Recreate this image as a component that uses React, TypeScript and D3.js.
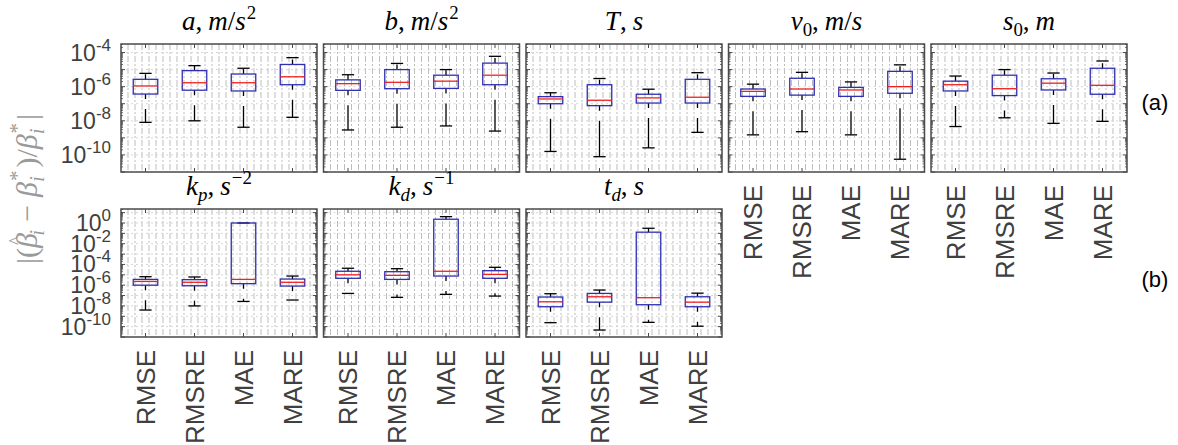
import React from 'react';
import * as d3 from 'd3';

// Categories (estimation criteria)
const methods = ['RMSE', 'RMSRE', 'MAE', 'MARE'];

// Each row: [lower whisker, q1, median, q3, upper whisker] per method
const statsA = [[8.1e-9, 3.7e-7, 1.1e-6, 2.7e-6, 6.0e-6], [1.0e-8, 6.2e-7, 1.7e-6, 8.7e-6, 1.7e-5], [4.2e-9, 5.6e-7, 1.7e-6, 5.5e-6, 1.2e-5], [1.6e-8, 1.3e-6, 3.8e-6, 2.0e-5, 5.0e-5]];
const statsB = [[2.9e-9, 6.1e-7, 1.5e-6, 2.5e-6, 5.0e-6], [4.2e-9, 7.6e-7, 1.8e-6, 1.0e-5, 2.3e-5], [5.0e-9, 7.9e-7, 2.1e-6, 4.7e-6, 1.0e-5], [2.5e-9, 1.3e-6, 4.7e-6, 2.4e-5, 6.0e-5]];
const statsT = [[1.6e-10, 1.0e-7, 1.9e-7, 2.6e-7, 4.4e-7], [7.9e-11, 7.7e-8, 1.6e-7, 1.3e-6, 3.0e-6], [2.6e-10, 1.1e-7, 2.2e-7, 3.6e-7, 7.1e-7], [2.1e-9, 1.1e-7, 2.4e-7, 2.7e-6, 6.6e-6]];
const statsV0 = [[1.5e-9, 2.7e-7, 5.3e-7, 7.3e-7, 1.4e-6], [2.3e-9, 3.2e-7, 7.3e-7, 3.1e-6, 6.9e-6], [1.5e-9, 2.7e-7, 6.4e-7, 9.1e-7, 1.9e-6], [5.6e-11, 4.1e-7, 1.0e-6, 7.9e-6, 1.9e-5]];
const statsS0 = [[4.6e-9, 5.6e-7, 1.3e-6, 2.1e-6, 4.2e-6], [1.5e-8, 3.0e-7, 7.6e-7, 4.7e-6, 1.0e-5], [7.1e-9, 6.4e-7, 1.6e-6, 2.9e-6, 6.3e-6], [9.3e-9, 3.6e-7, 1.2e-6, 1.2e-5, 3.2e-5]];
const statsKp = [[4.0e-9, 1.0e-6, 2.3e-6, 3.6e-6, 6.6e-6], [1.0e-8, 8.8e-7, 1.9e-6, 3.4e-6, 6.2e-6], [2.7e-8, 1.4e-6, 3.6e-6, 1.0, 1.0], [3.7e-8, 8.2e-7, 1.9e-6, 3.9e-6, 7.6e-6]];
const statsKd = [[1.6e-7, 4.6e-6, 1.0e-5, 2.2e-5, 4.3e-5], [6.7e-8, 3.6e-6, 8.9e-6, 2.0e-5, 3.9e-5], [1.3e-7, 7.6e-6, 2.2e-5, 2.3, 4.1], [8.9e-8, 4.6e-6, 1.1e-5, 2.5e-5, 5.3e-5]];
const statsTd = [[2.4e-10, 8.3e-9, 2.5e-8, 7.2e-8, 1.5e-7], [4.7e-11, 2.3e-8, 7.6e-8, 1.6e-7, 3.4e-7], [2.6e-10, 1.3e-8, 6.2e-8, 0.13, 0.31], [1.1e-10, 8.3e-9, 2.3e-8, 7.6e-8, 1.7e-7]];

// Axis ranges and tick labels
const topDomain = [1e-11, Math.pow(10, -3.5)];
const bottomDomain = [1e-11, Math.pow(10, 1.35)];
const topTickExps = [-4, -6, -8, -10];
const bottomTickExps = [0, -2, -4, -6, -8, -10];

type Seg = { t: string; i?: boolean; sup?: boolean; sub?: boolean; hat?: boolean; dx?: number };

const titleA: Seg[] = [{ t: 'a', i: true }, { t: ',' }, { t: 'm', i: true, dx: 6 }, { t: '/' }, { t: 's', i: true }, { t: '2', sup: true, dx: 1 }];
const titleB: Seg[] = [{ t: 'b', i: true }, { t: ',' }, { t: 'm', i: true, dx: 6 }, { t: '/' }, { t: 's', i: true }, { t: '2', sup: true, dx: 1 }];
const titleT: Seg[] = [{ t: 'T', i: true }, { t: ',' }, { t: 's', i: true, dx: 6 }];
const titleV0: Seg[] = [{ t: 'v', i: true }, { t: '0', sub: true }, { t: ',' }, { t: 'm', i: true, dx: 6 }, { t: '/' }, { t: 's', i: true }];
const titleS0: Seg[] = [{ t: 's', i: true }, { t: '0', sub: true }, { t: ',' }, { t: 'm', i: true, dx: 6 }];
const titleKp: Seg[] = [{ t: 'k', i: true }, { t: 'p', i: true, sub: true }, { t: ',' }, { t: 's', i: true, dx: 6 }, { t: '\u2212' + '2', sup: true, dx: 1 }];
const titleKd: Seg[] = [{ t: 'k', i: true }, { t: 'd', i: true, sub: true }, { t: ',' }, { t: 's', i: true, dx: 6 }, { t: '\u2212' + '1', sup: true, dx: 1 }];
const titleTd: Seg[] = [{ t: 't', i: true }, { t: 'd', i: true, sub: true }, { t: ',' }, { t: 's', i: true, dx: 6 }];

const yLabel: Seg[] = [
  { t: '|(' }, { t: '\u03B2', i: true }, { t: '^', hat: true, dx: -12 }, { t: 'i', i: true, sub: true, dx: 1 }, { t: '\u2212', dx: 8 },
  { t: '\u03B2', i: true, dx: 8 }, { t: 'i', i: true, sub: true }, { t: '*', sup: true, dx: -5 }, { t: ')/', dx: 3 },
  { t: '\u03B2', i: true }, { t: 'i', i: true, sub: true }, { t: '*', sup: true, dx: -5 }, { t: '|', dx: 3 },
];

const LEFT0 = 121;
const PW = 196;
const STEP = 202.5;
const PH = 128;
const ROW_TOP = [44, 209];

const AXIS = '#4a4a4a';
const TXT = '#404040';

function renderSegs(segs: Seg[], size: number, keyp: string) {
  let cur = 0;
  return segs.map((s, k) => {
    const target = s.sup ? -size * 0.42 : s.sub ? size * 0.22 : s.hat ? -size * 0.5 : 0;
    const dy = target - cur;
    cur = target;
    return (
      <tspan
        key={keyp + k}
        dy={dy}
        dx={s.dx || 0}
        fontStyle={s.i ? 'italic' : 'normal'}
        fontSize={s.sup || s.sub ? size * 0.7 : s.hat ? size * 0.6 : size}
      >
        {s.t}
      </tspan>
    );
  });
}

type PanelProps = {
  col: number;
  row: number;
  stats: number[][];
  title: Seg[];
  yLabels: boolean;
  xLabels: boolean;
};

function Panel({ col, row, stats, title, yLabels, xLabels }: PanelProps) {
  const x0 = LEFT0 + col * STEP;
  const y0 = ROW_TOP[row];
  const dom = row === 0 ? topDomain : bottomDomain;
  const exps = row === 0 ? topTickExps : bottomTickExps;
  const x = d3.scaleLinear().domain([0.5, 4.5]).range([x0, x0 + PW]);
  const y = d3.scaleLog().domain(dom).range([y0 + PH, y0]);
  const clipId = `clip-${row}-${col}`;

  const vgrid = d3.range(0.5 + 1 / 7, 4.5, 1 / 7);
  const decades = d3.range(-11, 2).map((e) => Math.pow(10, e)).filter((v) => v >= dom[0] && v <= dom[1]);
  const minors: number[] = [];
  d3.range(-11, 2).forEach((e) => {
    for (let m = 2; m <= 9; m++) {
      const v = m * Math.pow(10, e);
      if (v >= dom[0] && v <= dom[1]) minors.push(v);
    }
  });

  const bw = 0.25;
  const cw = 0.125;

  return (
    <g>
      <defs>
        <clipPath id={clipId}>
          <rect x={x0} y={y0} width={PW} height={PH} />
        </clipPath>
      </defs>
      <rect x={x0} y={y0} width={PW} height={PH} fill="#ffffff" />
      <g clipPath={`url(#${clipId})`}>
        {vgrid.map((g, k) => (
          <line key={'vg' + k} x1={x(g)} x2={x(g)} y1={y0} y2={y0 + PH} stroke="#bdbdbd" strokeWidth={1} strokeDasharray="6,2,2,2" />
        ))}
        {decades.map((v, k) => (
          <line key={'hg' + k} x1={x0} x2={x0 + PW} y1={y(v)} y2={y(v)} stroke="#d6d6d6" strokeWidth={1} strokeDasharray="2,3" />
        ))}
      </g>
      {decades.map((v, k) => (
        <g key={'mt' + k}>
          <line x1={x0} x2={x0 + 4} y1={y(v)} y2={y(v)} stroke={AXIS} />
          <line x1={x0 + PW} x2={x0 + PW - 4} y1={y(v)} y2={y(v)} stroke={AXIS} />
        </g>
      ))}
      {minors.map((v, k) => (
        <g key={'nt' + k}>
          <line x1={x0} x2={x0 + 2} y1={y(v)} y2={y(v)} stroke={AXIS} strokeWidth={0.8} />
          <line x1={x0 + PW} x2={x0 + PW - 2} y1={y(v)} y2={y(v)} stroke={AXIS} strokeWidth={0.8} />
        </g>
      ))}
      {methods.map((m, k) => (
        <g key={'xt' + k}>
          <line x1={x(k + 1)} x2={x(k + 1)} y1={y0 + PH} y2={y0 + PH - 4} stroke={AXIS} />
          <line x1={x(k + 1)} x2={x(k + 1)} y1={y0} y2={y0 + 4} stroke={AXIS} />
        </g>
      ))}
      {stats.map((s, k) => {
        const c = k + 1;
        const [lo, q1, med, q3, hi] = s;
        return (
          <g key={'bx' + k}>
            <line x1={x(c)} x2={x(c)} y1={y(q1)} y2={y(lo)} stroke="#000" strokeWidth={1.3} strokeDasharray="5,10,2000" />
            <line x1={x(c)} x2={x(c)} y1={y(q3)} y2={y(hi)} stroke="#000" strokeWidth={1.3} strokeDasharray="5,10,2000" />
            <line x1={x(c - cw)} x2={x(c + cw)} y1={y(lo)} y2={y(lo)} stroke="#000" strokeWidth={1.3} />
            <line x1={x(c - cw)} x2={x(c + cw)} y1={y(hi)} y2={y(hi)} stroke="#000" strokeWidth={1.3} />
            <rect x={x(c - bw)} y={y(q3)} width={x(c + bw) - x(c - bw)} height={y(q1) - y(q3)} fill="none" stroke="#2f2fb0" strokeWidth={1.3} />
            <line x1={x(c - bw)} x2={x(c + bw)} y1={y(med)} y2={y(med)} stroke="#f02020" strokeWidth={1.3} />
          </g>
        );
      })}
      <rect x={x0} y={y0} width={PW} height={PH} fill="none" stroke={AXIS} strokeWidth={1.5} />
      {yLabels &&
        exps.map((e, k) => (
          <text key={'yl' + k} x={x0 - 10} y={y(Math.pow(10, e)) + 8} textAnchor="end" fill={TXT} fontFamily="Liberation Sans, Arial, sans-serif" fontSize={23}>
            <tspan>10</tspan>
            <tspan dy={-10} fontSize={17}>{e < 0 ? '-' + Math.abs(e) : String(e)}</tspan>
          </text>
        ))}
      {xLabels &&
        methods.map((m, k) => (
          <text
            key={'xl' + k}
            transform={`translate(${x(k + 1)},${y0 + PH + 13}) rotate(-90)`}
            textAnchor="end"
            dy="0.36em"
            fill={TXT}
            fontFamily="Liberation Sans, Arial, sans-serif"
            fontSize={26}
          >
            {m}
          </text>
        ))}
      <text x={x0 + PW / 2} y={y0 - 14} textAnchor="middle" fill="#000" fontFamily="Liberation Serif, Times New Roman, serif" fontSize={27}>
        {renderSegs(title, 27, 't')}
      </text>
    </g>
  );
}

export default function App() {
  return (
    <svg width={1178} height={445} style={{ position: 'absolute', left: 0, top: 0, background: '#fff' }} xmlns="http://www.w3.org/2000/svg">
      <rect x={0} y={0} width={1178} height={445} fill="#fff" />
      <Panel col={0} row={0} stats={statsA} title={titleA} yLabels xLabels={false} />
      <Panel col={1} row={0} stats={statsB} title={titleB} yLabels={false} xLabels={false} />
      <Panel col={2} row={0} stats={statsT} title={titleT} yLabels={false} xLabels={false} />
      <Panel col={3} row={0} stats={statsV0} title={titleV0} yLabels={false} xLabels />
      <Panel col={4} row={0} stats={statsS0} title={titleS0} yLabels={false} xLabels />
      <Panel col={0} row={1} stats={statsKp} title={titleKp} yLabels xLabels />
      <Panel col={1} row={1} stats={statsKd} title={titleKd} yLabels={false} xLabels />
      <Panel col={2} row={1} stats={statsTd} title={titleTd} yLabels={false} xLabels />
      <text transform="translate(37,189) rotate(-90)" textAnchor="middle" fill="#9a9a9a" fontFamily="Liberation Serif, Times New Roman, serif" fontSize={30}>
        {renderSegs(yLabel, 30, 'y')}
      </text>
      <text x={1155} y={110} textAnchor="middle" fill="#000" fontFamily="Liberation Sans, Arial, sans-serif" fontSize={22}>(a)</text>
      <text x={1155} y={287} textAnchor="middle" fill="#000" fontFamily="Liberation Sans, Arial, sans-serif" fontSize={22}>(b)</text>
    </svg>
  );
}
